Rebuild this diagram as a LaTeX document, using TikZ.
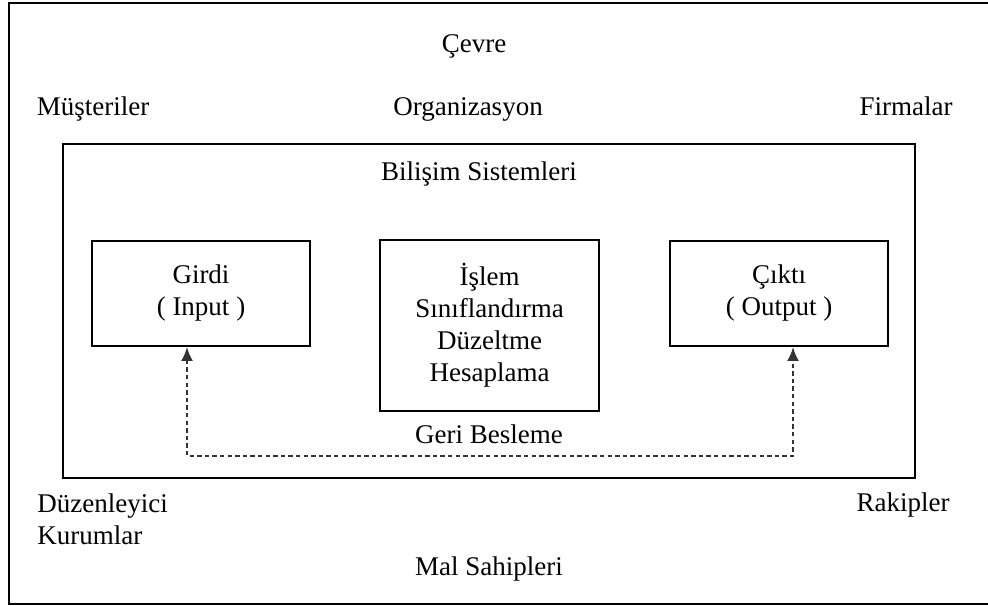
\documentclass[tikz,border=0pt]{standalone}
\usepackage{fontspec}
\setmainfont{Liberation Serif}
\usepackage{tikz}
\usetikzlibrary{arrows.meta, positioning}
\tikzstyle{box} = [rectangle, draw=black, line width=0.9pt, align=center, inner sep=0pt]
\tikzstyle{label} = [inner sep=0pt, align=center, anchor=base]
\tikzstyle{feedback} = [dashed, dash pattern=on 2.2pt off 1.6pt, line width=1.2pt, draw=black!80, {Latex[length=7pt,width=6pt]}-{Latex[length=7pt,width=6pt]}]

\begin{document}
\begin{tikzpicture}[x=0.5pt, y=-0.5pt, every node/.style={font=\fontsize{13.5}{16}\selectfont}]
  \clip (0,0) rectangle (988,605);
  \draw[line width=1pt] (9,3) rectangle (1000,604);
  % environment
  \node[label] (cevre) at (474,52) {Çevre};
  \node[label] (musteri) at (93,115) {Müşteriler};
  \node[label] (org) at (468,115) {Organizasyon};
  \node[label] (firma) at (906,115) {Firmalar};
  \node[label, align=left, anchor=base west] (duzen) at (37,544) {Düzenleyici\\Kurumlar};
  \node[label] (rakip) at (903,511) {Rakipler};
  \node[label] (mal) at (489,575) {Mal Sahipleri};
  % information system
  \node[box, minimum width=426pt, minimum height=167pt] (sys) at (489,311) {};
  \node[label] (bs) at (479,180) {Bilişim Sistemleri};
  \node[box, minimum width=109pt, minimum height=52.5pt] (girdi) at (201,293.5) {Girdi\\( Input )};
  \node[box, minimum width=109.5pt, minimum height=85.5pt] (islem) at (489.5,325.5) {İşlem\\Sınıflandırma\\Düzeltme\\Hesaplama};
  \node[box, minimum width=109pt, minimum height=52.5pt] (cikti) at (779,293.5) {Çıktı\\( Output )};
  \coordinate (fb) at (489,456);
  \node[label] (geri) at (489,443) {Geri Besleme};

  \draw[feedback] ([xshift=-7pt]girdi.south) |- (fb) -| ([xshift=7pt]cikti.south);
\end{tikzpicture}
\end{document}
